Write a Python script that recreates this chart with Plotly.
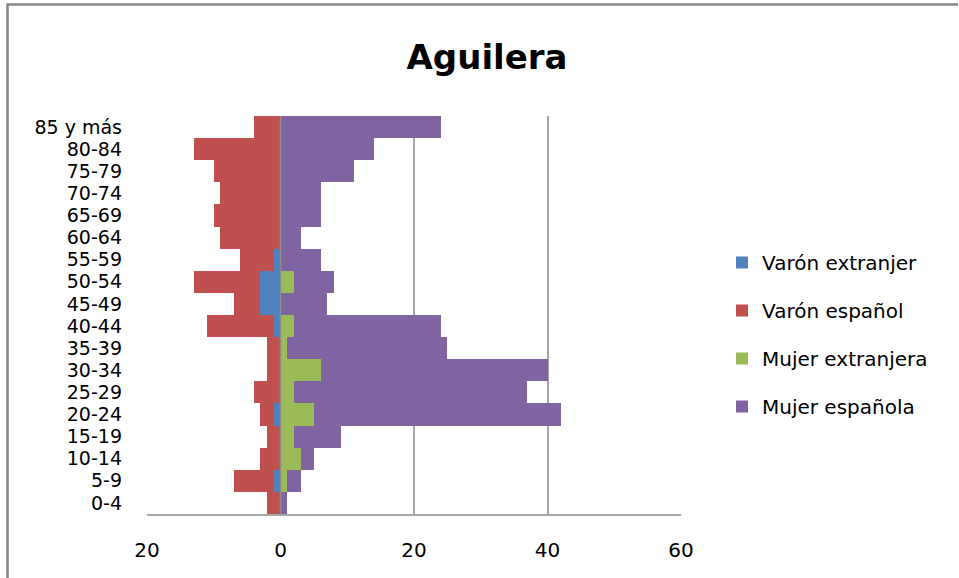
import plotly.graph_objects as go

categories = ["0-4", "5-9", "10-14", "15-19", "20-24", "25-29", "30-34", "35-39",
              "40-44", "45-49", "50-54", "55-59", "60-64", "65-69", "70-74",
              "75-79", "80-84", "85 y más"]
varon_extranjero = [0, 1, 0, 0, 1, 0, 0, 0, 1, 3, 3, 1, 0, 0, 0, 0, 0, 0]
varon_espanol = [2, 6, 3, 2, 2, 4, 2, 2, 10, 4, 10, 5, 9, 10, 9, 10, 13, 4]
mujer_extranjera = [0, 1, 3, 2, 5, 2, 6, 1, 2, 0, 2, 0, 0, 0, 0, 0, 0, 0]
mujer_espanola = [1, 2, 2, 7, 37, 35, 34, 24, 22, 7, 6, 6, 3, 6, 6, 11, 14, 24]

x_tickvals = [-20, 0, 20, 40, 60]
x_ticktext = ["20", "0", "20", "40", "60"]

FONT = "DejaVu Sans"

fig = go.Figure()
series = [
    ("Varón extranjer", [-v for v in varon_extranjero], "#4F81BD"),
    ("Varón español", [-v for v in varon_espanol], "#C0504D"),
    ("Mujer extranjera", mujer_extranjera, "#9BBB59"),
    ("Mujer española", mujer_espanola, "#8064A2"),
]
for i, (name, vals, color) in enumerate(series):
    fig.add_trace(go.Bar(
        y=categories, x=vals, name=name, orientation="h",
        marker=dict(color=color, line=dict(width=0)),
        legendgroup=f"g{i}",
    ))

W, H = 959, 578
L, R, T, B = 147, 681, 116, 514

def px_x(p):
    return (p - L) / (R - L)

def px_y(p):
    return (B - p) / (B - T)

fig.update_layout(
    width=W, height=H,
    margin=dict(l=L, r=W - R, t=T, b=H - B),
    barmode="relative",
    bargap=0,
    plot_bgcolor="white",
    paper_bgcolor="white",
    font=dict(family=FONT, size=20, color="#000000"),
    title=dict(text="<b>Aguilera</b>", x=487 / W, xanchor="center",
               y=1 - 57 / H, yanchor="middle", font=dict(family=FONT, size=34)),
    legend=dict(x=px_x(722), xanchor="left", y=px_y(243), yanchor="top",
                traceorder="grouped", tracegroupgap=19,
                font=dict(family=FONT, size=20), bgcolor="rgba(0,0,0,0)"),
    xaxis=dict(range=[-20, 60], tickvals=x_tickvals, ticktext=x_ticktext,
               showgrid=True, gridcolor="#A6A6A6", gridwidth=1.5,
               zeroline=False, showline=True, linecolor="#A6A6A6", linewidth=1.5,
               ticks="", ticklabelstandoff=17, fixedrange=True),
    yaxis=dict(type="category", showgrid=False, zeroline=False,
               showline=False, ticks="", ticklabelstandoff=24,
               tickmode="array", tickvals=categories, ticktext=categories,
               tickfont=dict(family=FONT, size=19)),
    shapes=[
        dict(type="line", xref="x", yref="paper", x0=0, x1=0, y0=0, y1=1,
             line=dict(color="#8C8C8C", width=1.5), layer="above"),
        dict(type="path", xref="paper", yref="paper",
             path=f"M {px_x(7.5)},{px_y(578)} L {px_x(7.5)},{px_y(4.5)} L {px_x(958)},{px_y(4.5)}",
             line=dict(color="#868686", width=2.5)),
    ],
)

fig.write_html("out.html", config={"displayModeBar": False},
               post_script="document.body.style.margin='0';document.body.style.overflow='hidden';")
